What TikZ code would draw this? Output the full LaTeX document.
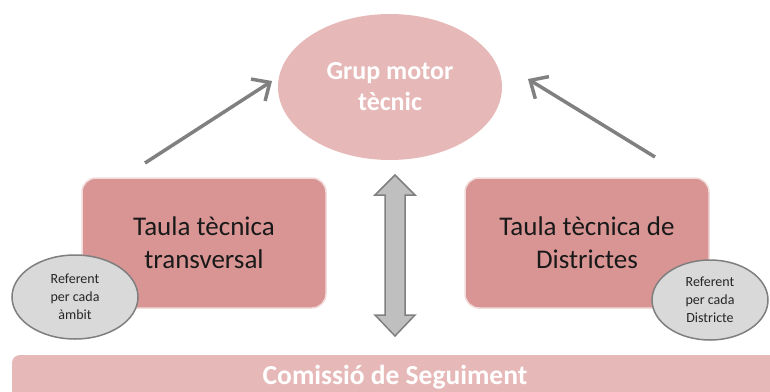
\documentclass[tikz,border=0pt]{standalone}
\usepackage{fontspec}
\setmainfont{Carlito}
\usetikzlibrary{arrows.meta,shapes.geometric}
\definecolor{topfill}{HTML}{E6B9B8}
\definecolor{boxfill}{HTML}{D99594}
\definecolor{boxedge}{HTML}{F2DCDB}
\definecolor{refill}{HTML}{D9D9D9}
\definecolor{refedge}{HTML}{7F7F7F}
\definecolor{arrgray}{HTML}{808080}
\definecolor{dblfill}{HTML}{BFBFBF}
\tikzset{
  motor/.style={ellipse,fill=topfill,minimum width=224pt,minimum height=146pt,inner sep=0pt,
    text=white,font=\fontsize{26}{31}\selectfont\bfseries,align=center},
  taula/.style={rounded corners=14pt,fill=boxfill,draw=boxedge,line width=1.5pt,
    minimum width=244pt,minimum height=130pt,inner sep=0pt,
    text=black!90,font=\fontsize{27}{33}\selectfont,align=center},
  referent/.style={ellipse,fill=refill,draw=refedge,line width=1.5pt,inner sep=0pt,
    font=\fontsize{14}{18}\selectfont,text=black!85,align=center},
  link/.style={draw=arrgray,line width=3.5pt,-{Straight Barb[length=14pt,width=26pt,line width=3.5pt]}},
  dbl/.style={fill=dblfill,draw=arrgray,line width=1.5pt,line join=miter},
  comissio/.style={fill=topfill,text=white,font=\fontsize{27.5}{30}\selectfont\bfseries}
}
\begin{document}
\begin{tikzpicture}[x=1pt,y=-1pt]
\useasboundingbox (0,0) rectangle (770,391);
\fill[white] (0,0) rectangle (770,391);
% bottom bar
\begin{scope}
\clip (0,0) rectangle (770,391);
\path[comissio,rounded corners=8pt] (12,420) -- (12,355) -- (790,355) -- (790,420) -- cycle;
\end{scope}
\node[comissio,fill=none] (com) at (395,377) {Comissió de Seguiment};
% top ellipse
\node[motor] (gm) at (390,87) {Grup motor\\tècnic};
% boxes
\node[taula] (tt) at (204,243) {Taula tècnica\\transversal};
\node[taula] (td) at (587,243) {Taula tècnica de\\Districtes};
% referent ellipses
\node[referent,minimum width=126pt,minimum height=84pt] (ra) at (75,297) {Referent\\per cada\\àmbit};
\node[referent,minimum width=116pt,minimum height=80pt] (rd) at (710,300) {Referent\\per cada\\Districte};
% arrows
\coordinate (la) at (145,163);
\coordinate (lb) at (272,81);
\coordinate (ra1) at (655,157);
\coordinate (rb1) at (528,79);
\draw[link] (la) -- (lb);
\draw[link] (ra1) -- (rb1);
% double arrow
\path[dbl] (395,175) -- (415,195) -- (405,195) -- (405,315) -- (415,315) -- (395,336)
  -- (375,315) -- (385,315) -- (385,195) -- (375,195) -- cycle;
\end{tikzpicture}
\end{document}
